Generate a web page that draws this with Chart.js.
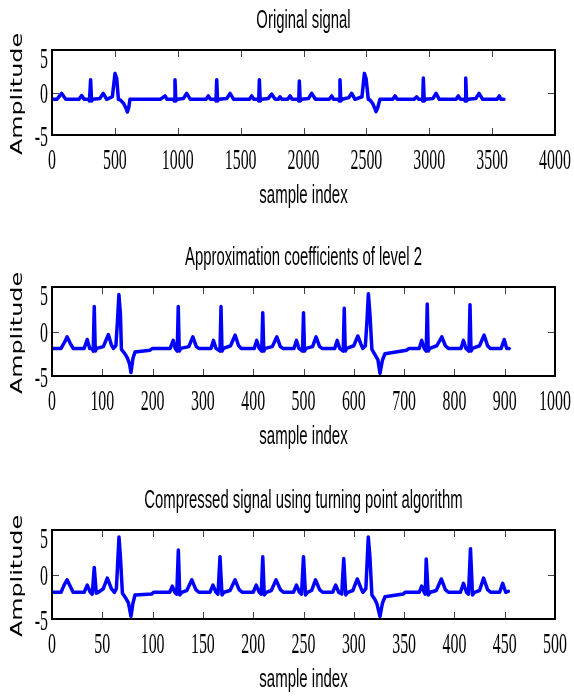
<!DOCTYPE html>
<html>
<head>
<meta charset="utf-8">
<script src="https://cdn.jsdelivr.net/npm/chart.js@4/dist/chart.umd.min.js"></script>
<style>
  html, body { margin: 0; padding: 0; background: #fff; }
  .plot { position: absolute; left: 0; width: 574px; }
</style>
</head>
<body>
<div class="plot" style="top:0;height:232px"><canvas id="plot-original"></canvas></div>
<div class="plot" style="top:232px;height:232px"><canvas id="plot-approx"></canvas></div>
<div class="plot" style="top:464px;height:233px"><canvas id="plot-compressed"></canvas></div>
<script>
// Titles and axis texts
const titles = [
  'Original signal',
  'Approximation coefficients of level 2',
  'Compressed signal using turning point algorithm',
];
const xAxisLabel = 'sample index';
const yAxisLabel = 'Amplitude';

// Tick labels
const originalTicks = [0, 500, 1000, 1500, 2000, 2500, 3000, 3500, 4000];
const approxTicks = [0, 100, 200, 300, 400, 500, 600, 700, 800, 900, 1000];
const compressedTicks = [0, 50, 100, 150, 200, 250, 300, 350, 400, 450, 500];
const amplitudeTicks = [-5, 0, 5];

// Original signal (3600 samples), vertices
const originalX = [0, 40, 60, 77, 95, 110, 215, 236, 255, 290, 298, 307, 315, 325, 380, 408, 435, 480, 501, 515,
  528, 545, 570, 590, 599, 610, 620, 860, 880, 899, 915, 968, 972, 978, 985, 995, 1045, 1071, 1100, 1225,
  1243, 1260, 1300, 1304, 1310, 1317, 1327, 1390, 1416, 1445, 1570, 1588, 1605, 1640, 1644, 1649, 1656, 1666, 1720, 1747,
  1775, 1800, 1813, 1830, 1875, 1893, 1910, 1958, 1962, 1967, 1974, 1984, 2040, 2065, 2095, 2205, 2224, 2240, 2280, 2284,
  2290, 2297, 2307, 2360, 2383, 2410, 2465, 2484, 2498, 2515, 2530, 2550, 2568, 2577, 2590, 2608, 2710, 2728, 2745, 2880,
  2900, 2915, 2945, 2948, 2953, 2960, 2970, 3030, 3054, 3080, 3213, 3231, 3248, 3282, 3285, 3290, 3297, 3307, 3370, 3396,
  3425, 3540, 3557, 3570, 3594];
const originalY = [-0.8, -0.8, -0.4, -0.1, -0.5, -0.8, -0.8, -0.35, -0.8, -0.8, -1.0, 1.5, -1.0, -0.8, -0.7, -0.1, -0.8, -0.5, 2.25, 1.6,
  -0.8, -0.9, -1.3, -1.9, -2.3, -1.8, -0.8, -0.8, -0.6, -0.4, -0.8, -0.8, -1.0, 1.5, -1.0, -0.8, -0.7, -0.1, -0.8, -0.8,
  -0.4, -0.8, -0.8, -1.0, 1.5, -1.0, -0.8, -0.7, -0.1, -0.8, -0.8, -0.4, -0.8, -0.8, -1.0, 1.5, -1.0, -0.8, -0.7, -0.2,
  -0.8, -0.8, -0.5, -0.8, -0.8, -0.4, -0.8, -0.8, -1.0, 1.35, -1.0, -0.8, -0.7, -0.1, -0.8, -0.8, -0.4, -0.8, -0.8, -1.0,
  1.5, -1.0, -0.8, -0.6, -0.1, -0.8, -0.5, 2.25, 1.6, -0.8, -0.9, -1.3, -1.9, -2.25, -1.8, -0.8, -0.8, -0.4, -0.8, -0.8,
  -0.5, -0.8, -0.8, -1.0, 1.7, -1.0, -0.8, -0.7, -0.1, -0.8, -0.8, -0.4, -0.8, -0.8, -1.0, 1.7, -1.0, -0.8, -0.7, -0.1,
  -0.8, -0.8, -0.4, -0.8, -0.8];

// Approximation coefficients of level 2 (about 910 values)
const approxX = [0, 18, 25, 30, 36, 42, 64, 70, 75, 80, 82, 84, 86, 89, 102, 112, 118, 122, 127, 130,
  133, 136, 138, 145, 150, 154, 157, 161, 165, 195, 200, 235, 241, 245, 249, 251, 253, 256, 272, 280,
  287, 292, 316, 321, 326, 334, 336, 338, 341, 355, 364, 371, 376, 402, 407, 412, 417, 419, 421, 424,
  438, 447, 454, 459, 481, 486, 491, 498, 500, 502, 505, 518, 525, 532, 537, 562, 567, 572, 579, 581,
  583, 586, 600, 608, 614, 618, 623, 626, 629, 632, 636, 642, 648, 652, 657, 662, 705, 710, 730, 735,
  740, 744, 746, 748, 751, 765, 775, 782, 788, 813, 818, 823, 829, 831, 833, 836, 850, 859, 866, 871,
  893, 899, 904, 909];
const approxY = [-1.9, -1.9, -1.2, -0.6, -1.3, -1.9, -1.9, -0.9, -1.9, -1.9, -2.2, 2.8, -2.2, -1.9, -1.7, -0.35, -1.5, -1.9, -1.6, 1.0,
  4.15, 2.0, -2.0, -2.5, -3.0, -3.6, -4.6, -3.0, -2.3, -2.1, -1.9, -1.9, -1.0, -1.9, -2.2, 2.8, -2.2, -1.9, -1.7, -0.6,
  -1.7, -1.9, -1.9, -1.0, -1.9, -2.2, 2.8, -2.2, -1.9, -1.6, -0.4, -1.6, -1.9, -1.9, -1.0, -1.9, -2.2, 2.1, -2.2, -1.9,
  -1.7, -0.6, -1.7, -1.9, -1.9, -1.0, -1.9, -2.2, 2.1, -2.2, -1.9, -1.7, -0.6, -1.7, -1.9, -1.9, -1.0, -1.9, -2.2, 2.6,
  -2.2, -1.9, -1.6, -0.5, -1.4, -1.9, -1.6, 1.0, 4.25, 2.0, -2.0, -2.6, -3.2, -4.7, -3.2, -2.5, -2.1, -1.9, -1.9, -1.0,
  -1.9, -2.2, 3.1, -2.2, -1.9, -1.6, -0.6, -1.6, -1.9, -1.9, -1.0, -1.9, -2.2, 3.0, -2.2, -1.9, -1.6, -0.4, -1.6, -1.9,
  -1.9, -0.9, -1.9, -1.9];

// Compressed signal, turning point algorithm (about 455 values)
const compressedX = [0, 9, 12, 15, 18, 21, 32, 35, 38, 40, 42, 44, 46, 51, 55, 59, 62, 64, 66.6, 68,
  70, 73, 76, 78.5, 80.5, 82.5, 99, 101, 117, 119.6, 122, 124, 125.6, 127, 129, 134, 139, 143, 146, 157,
  160, 163, 165, 167, 169, 171, 177, 182, 186, 189, 200, 203, 206, 208, 209.5, 211, 213, 218, 222.7, 227,
  230, 240, 243, 246, 248, 250, 252, 254, 258, 262, 266, 269, 279, 282, 285, 288, 290, 292, 294, 299,
  303.5, 307, 309, 312, 314.4, 316, 318, 321, 323, 326, 328.5, 331, 349, 351, 365, 367.5, 370, 371, 372, 374,
  376, 382, 387, 391, 394, 406, 409, 412, 414, 416, 418, 420, 425, 429, 433, 436, 445, 448, 451, 453.6];
const compressedY = [-2.0, -2.0, -1.2, -0.6, -1.3, -2.0, -2.0, -1.2, -2.0, -2.2, 0.8, -2.1, -2.0, -1.6, -0.4, -1.6, -2.0, -1.6, 4.2, 2.0,
  -2.1, -2.6, -3.2, -4.7, -3.2, -2.3, -2.2, -2.0, -2.0, -1.3, -2.0, -2.2, 2.75, -2.3, -2.0, -1.8, -0.6, -1.7, -2.0, -2.0,
  -1.2, -2.0, -2.2, 2.0, -2.3, -2.0, -1.8, -0.6, -1.7, -2.0, -2.0, -1.2, -2.0, -2.2, 2.0, -2.3, -2.0, -1.8, -0.6, -1.7,
  -2.0, -2.0, -1.2, -2.0, -2.2, 2.0, -2.3, -2.0, -1.8, -0.6, -1.7, -2.0, -2.0, -1.2, -2.0, -2.2, 1.8, -2.3, -2.0, -1.8,
  -0.5, -1.5, -2.0, -1.6, 4.2, 2.0, -2.3, -2.8, -3.3, -4.7, -3.2, -2.5, -2.2, -2.0, -2.0, -1.3, -2.0, -2.2, 1.75, -2.3,
  -2.0, -1.8, -0.5, -1.7, -2.0, -2.0, -1.0, -2.0, -2.2, 2.9, -2.3, -2.0, -1.8, -0.4, -1.7, -2.0, -2.0, -1.0, -2.0, -1.9];

// Condensed text, like the stretched figure
const drawText = (ctx, text, x, y, font, sx, align) => {
  ctx.save();
  ctx.translate(x, y);
  ctx.scale(sx, 1);
  ctx.font = font;
  ctx.textAlign = align;
  ctx.textBaseline = 'alphabetic';
  ctx.fillStyle = '#000';
  ctx.fillText(text, 0, 0);
  ctx.restore();
};

// MATLAB-like box, inward ticks and all texts
const matlabAxes = {
  id: 'matlabAxes',
  afterDraw(c, args, opts) {
    const ctx = c.ctx;
    const { left, right, top, bottom } = c.chartArea;
    const xs = c.scales.x;
    const ys = c.scales.y;
    const tickLen = 7;

    ctx.save();
    ctx.strokeStyle = '#444';
    ctx.lineWidth = 1;
    ctx.beginPath();
    opts.xTicks.forEach((v) => {
      const px = Math.round(xs.getPixelForValue(v)) + 0.5;
      ctx.moveTo(px, bottom); ctx.lineTo(px, bottom - tickLen);
      ctx.moveTo(px, top); ctx.lineTo(px, top + tickLen);
    });
    opts.yTicks.forEach((v) => {
      const py = Math.round(ys.getPixelForValue(v)) + 0.5;
      ctx.moveTo(left, py); ctx.lineTo(left + tickLen, py);
      ctx.moveTo(right, py); ctx.lineTo(right - tickLen, py);
    });
    ctx.stroke();

    ctx.strokeStyle = '#000';
    ctx.lineWidth = 2;
    ctx.strokeRect(left, top, right - left, bottom - top);
    ctx.restore();

    // x tick labels
    opts.xTicks.forEach((v) => {
      drawText(ctx, String(v), xs.getPixelForValue(v), bottom + 34, '30px "Liberation Serif"', 0.53, 'center');
    });
    // y tick labels
    opts.yTicks.forEach((v) => {
      const py = Math.max(ys.getPixelForValue(v) + 10.5, top + 17.5);
      drawText(ctx, String(v), left - 4, py, '30px "Liberation Serif"', 0.53, 'right');
    });

    const cx = (left + right) / 2;
    drawText(ctx, opts.title, cx, top - 22, '25px "Liberation Sans"', 0.595, 'center');
    drawText(ctx, xAxisLabel, cx, bottom + 68, '25px "Liberation Sans"', 0.6, 'center');

    // rotated y label
    ctx.save();
    ctx.translate(18, (top + bottom) / 2 + 1.5);
    ctx.rotate(-Math.PI / 2);
    ctx.scale(1.49, 1);
    ctx.font = '16px "DejaVu Sans"';
    ctx.textAlign = 'center';
    ctx.textBaseline = 'middle';
    ctx.fillStyle = '#000';
    ctx.fillText(yAxisLabel, 0, 0);
    ctx.restore();
  },
};

const makePlot = (id, xValues, yValues, xTicks, title, padding) => {
  const ctx = document.getElementById(id);
  const points = xValues.map((x, i) => ({ x, y: yValues[i] }));
  return new Chart(ctx, {
    type: 'line',
    data: {
      datasets: [{
        data: points,
        borderColor: '#0000ff',
        borderWidth: 3.5,
        borderJoinStyle: 'round',
        borderCapStyle: 'round',
        pointRadius: 0,
        tension: 0,
        fill: false,
      }],
    },
    options: {
      responsive: true,
      maintainAspectRatio: false,
      animation: false,
      layout: { padding },
      scales: {
        x: {
          type: 'linear',
          display: false,
          min: xTicks[0],
          max: xTicks[xTicks.length - 1],
        },
        y: {
          type: 'linear',
          display: false,
          min: amplitudeTicks[0],
          max: amplitudeTicks[amplitudeTicks.length - 1],
        },
      },
      plugins: {
        legend: { display: false },
        tooltip: { enabled: false },
        matlabAxes: { xTicks, yTicks: amplitudeTicks, title },
      },
    },
    plugins: [matlabAxes],
  });
};

makePlot('plot-original', originalX, originalY, originalTicks, titles[0],
  { left: 52, right: 19, top: 50, bottom: 97 });
makePlot('plot-approx', approxX, approxY, approxTicks, titles[1],
  { left: 52, right: 19, top: 55, bottom: 88 });
makePlot('plot-compressed', compressedX, compressedY, compressedTicks, titles[2],
  { left: 52, right: 19, top: 66, bottom: 78 });
</script>
</body>
</html>
